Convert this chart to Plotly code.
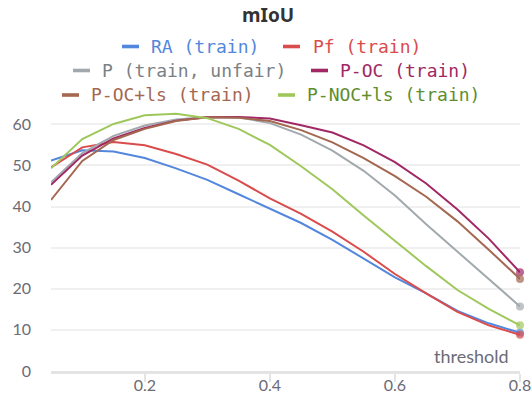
import plotly.graph_objects as go

thresholds = [0.05, 0.1, 0.15, 0.2, 0.25, 0.3, 0.35, 0.4, 0.45, 0.5, 0.55, 0.6, 0.65, 0.7, 0.75, 0.8]
ra_train = [51.2, 53.7, 53.4, 51.8, 49.3, 46.5, 43.0, 39.4, 36.0, 31.9, 27.4, 22.8, 18.9, 14.6, 11.6, 9.3]
pf_train = [49.5, 54.4, 55.7, 54.9, 52.8, 50.2, 46.3, 42.0, 38.2, 33.9, 29.0, 23.6, 18.9, 14.4, 11.1, 8.8]
p_unfair = [45.9, 53.0, 57.2, 59.7, 61.2, 61.8, 61.7, 60.3, 57.5, 53.6, 48.7, 42.7, 35.7, 29.0, 22.3, 15.7]
p_oc = [45.3, 52.4, 56.6, 59.1, 60.9, 61.7, 61.8, 61.4, 59.8, 58.0, 54.9, 50.8, 45.6, 39.3, 32.2, 24.0]
p_oc_ls = [41.6, 51.1, 56.2, 58.9, 60.8, 61.7, 61.6, 60.8, 58.6, 55.6, 51.8, 47.4, 42.4, 36.4, 29.5, 22.4]
p_noc_ls = [49.3, 56.4, 60.1, 62.2, 62.6, 61.5, 58.9, 55.0, 49.8, 44.2, 37.8, 31.6, 25.5, 19.7, 15.1, 11.1]

series_names = ["RA (train)", "Pf (train)", "P (train, unfair)", "P-OC (train)", "P-OC+ls (train)", "P-NOC+ls (train)"]
series_values = [ra_train, pf_train, p_unfair, p_oc, p_oc_ls, p_noc_ls]
line_colors = ["#5387DD", "#DA4C4C", "#A2A9AD", "#A12864", "#A46750", "#9FC85C"]
text_colors = ["#5387DD", "#DA4C4C", "#7A8185", "#A12864", "#A46750", "#5E8E2E"]
y_ticks = [0, 10, 20, 30, 40, 50, 60]
x_ticks = [0.2, 0.4, 0.6, 0.8]

W, H = 531, 411
L, R, T, B = 51, 11, 112, 40
PW, PH = W - L - R, H - T - B


def px(x, y):
    return (x - L) / PW, (H - B - y) / PH


fig = go.Figure()
for name, vals, col in zip(series_names, series_values, line_colors):
    n = len(vals)
    fig.add_trace(go.Scatter(
        x=thresholds, y=vals, name=name, mode="lines+markers",
        line=dict(color=col, width=2),
        marker=dict(size=[0] * (n - 1) + [8], color=col, line=dict(width=0)),
        cliponaxis=False, showlegend=False,
    ))

annotations = []
shapes = []
# title
tx, ty = px(268, 15)
annotations.append(dict(text="<b>mIoU</b>", x=tx, y=ty, xref="paper", yref="paper",
                        showarrow=False, xanchor="center", yanchor="middle",
                        font=dict(family="Noto Sans", size=19, color="#333333")))

# legend entries: (swatch_left, text_left, y_center)
legend_pos = [(122, 149, 46.5), (283, 311, 46.5), (73, 100, 70.5),
              (311, 338, 70.5), (62, 89, 95), (278, 305, 95)]
for (sx, txp, yc), name, lc, tc in zip(legend_pos, series_names, line_colors, text_colors):
    x0, y0 = px(sx, yc + 1.8)
    x1, y1 = px(sx + 17, yc - 1.8)
    shapes.append(dict(type="rect", xref="paper", yref="paper", x0=x0, y0=y0, x1=x1, y1=y1,
                       fillcolor=lc, line=dict(width=0), layer="above"))
    ax, ay = px(txp, yc)
    annotations.append(dict(text=name, x=ax, y=ay, xref="paper", yref="paper",
                            showarrow=False, xanchor="left", yanchor="middle",
                            font=dict(family="DejaVu Sans Mono", size=18, color=tc)))

# axis title "threshold"
thx, thy = px(511, 356)
annotations.append(dict(text="threshold", x=thx, y=thy, xref="paper", yref="paper",
                        showarrow=False, xanchor="right", yanchor="middle",
                        font=dict(family="Lato", size=18, color="#6b6b76")))

fig.update_layout(
    width=W, height=H,
    margin=dict(l=L, r=R, t=T, b=B, pad=0, autoexpand=False),
    paper_bgcolor="white", plot_bgcolor="white",
    showlegend=False,
    annotations=annotations, shapes=shapes,
    xaxis=dict(range=[0.05, 0.8], tickvals=x_ticks, ticktext=[str(v) for v in x_ticks],
               automargin=False, ticklabeloverflow="allow",
               showgrid=False, zeroline=False, showline=True, linecolor="#e4e4e4", linewidth=3,
               ticks="outside", ticklen=8, tickwidth=1.5, tickcolor="#e4e4e4",
               ticklabelstandoff=-10,
               tickfont=dict(family="Lato", size=16, color="#6b6b76")),
    yaxis=dict(range=[0, 63], tickvals=y_ticks, showgrid=True, gridcolor="#f0f0f0", gridwidth=1.5,
               automargin=False,
               zeroline=False, showline=False, ticks="", ticklabelstandoff=19,
               tickfont=dict(family="Lato", size=16, color="#6b6b76")),
)

fig.write_html("out.html")
